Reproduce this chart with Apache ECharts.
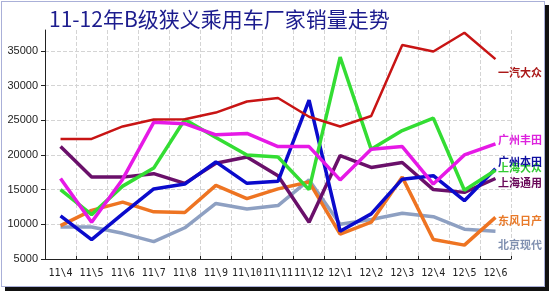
<!DOCTYPE html>
<html>
<head>
<meta charset="utf-8">
<script src="https://cdn.jsdelivr.net/npm/echarts@6/dist/echarts.min.js"></script>
<style>
html,body{margin:0;padding:0;background:#fff;}
#wrap{position:relative;width:550px;height:293px;overflow:hidden;}
#frame{position:absolute;left:1px;top:1px;width:542px;height:284px;border:1px solid #aab0d8;background:#fff;box-shadow:4px 4px 0 #111;}
#chart{position:absolute;left:0;top:0;width:550px;height:293px;}
</style>
</head>
<body>
<div id="wrap"><div id="frame"></div><div id="chart"></div></div>
<script>
const categories = ['11\\4','11\\5','11\\6','11\\7','11\\8','11\\9','11\\10','11\\11','11\\12','12\\1','12\\2','12\\3','12\\4','12\\5','12\\6'];
const yTicks = [5000, 10000, 15000, 20000, 25000, 30000, 35000];
const faw_vw     = [22300, 22300, 24100, 25100, 25150, 26100, 27700, 28200, 25500, 24100, 25600, 35850, 34900, 37600, 33800];
const gz_toyota  = [16600, 10300, 16500, 24700, 24500, 22900, 23100, 21200, 21200, 16400, 20800, 21200, 15800, 20000, 21600];
const sh_vw      = [15000, 11400, 15500, 18100, 25100, 22500, 20000, 19700, 15000, 34100, 20800, 23500, 25300, 14900, 17800];
const gz_honda   = [11200, 7800, 11500, 15100, 15800, 19000, 15900, 16200, 27900, 9000, 11500, 16500, 17000, 13400, 18000];
const sh_gm      = [21200, 16800, 16800, 17300, 15900, 18800, 19700, 17000, 10300, 19900, 18200, 18900, 15000, 14600, 16600];
const df_nissan  = [9800, 12000, 13200, 11800, 11700, 15600, 13700, 15100, 16100, 8600, 10300, 16800, 7800, 7000, 11000];
const bj_hyundai = [9600, 9600, 8700, 7500, 9500, 13000, 12200, 12700, 16400, 10000, 10700, 11600, 11100, 9300, 9000];
const names = ['一汽大众','广州丰田','上海大众','广州本田','上海通用','东风日产','北京现代'];

const seriesData = [faw_vw, gz_toyota, sh_vw, gz_honda, sh_gm, df_nissan, bj_hyundai];
const colors = ['#c81414','#e619e6','#33dd33','#0a0acc','#6a106a','#ee7422','#8ea0c2'];
const labelColors = ['#aa1818','#dd22dd','#33cc33','#1010a0','#6a0a5a','#e87a2a','#8090b0'];
const labelY = [73, 140, 168, 162, 183, 221, 245];

const chart = echarts.init(document.getElementById('chart'), null, {renderer:'canvas'});
const cjk = '"Noto Sans CJK SC", sans-serif';
chart.setOption({
  backgroundColor: 'transparent',
  animation: false,
  title: {
    text: '11-12年B级狭义乘用车厂家销量走势',
    left: 44, top: 4,
    textStyle: {fontFamily: cjk, fontSize: 21, fontWeight: 'normal', color: '#1c1c8e'}
  },
  grid: {left: 45, right: 39, top: 30, bottom: 34},
  xAxis: {
    type: 'category',
    data: categories,
    boundaryGap: true,
    axisLine: {lineStyle: {color: '#222', width: 1}},
    axisTick: {show: true, inside: true, length: 3, lineStyle: {color: '#222'}},
    axisLabel: {color: '#222', fontSize: 10, fontFamily: '"DejaVu Sans Mono", monospace', margin: 9, interval: 0},
    splitLine: {show: true, lineStyle: {color: '#d4d4d4', type: 'dashed', width: 1}}
  },
  yAxis: {
    type: 'value',
    min: yTicks[0], max: 38000, interval: 5000,
    axisLine: {show: true, lineStyle: {color: '#222', width: 1}},
    axisTick: {show: true, length: 4, lineStyle: {color: '#222'}},
    axisLabel: {color: '#222', fontSize: 11, fontFamily: '"Liberation Sans", Arial', margin: 7, showMaxLabel: false,
      formatter: v => yTicks.indexOf(v) >= 0 ? String(v) : ''},
    splitLine: {show: true, showMaxLine: false, lineStyle: {color: '#d4d4d4', type: 'dashed', width: 1}}
  },
  series: seriesData.map((d, i) => ({
    name: names[i], type: 'line', data: d, symbol: 'none', smooth: false,
    lineStyle: {color: colors[i], width: i === 0 ? 2.5 : 3.5},
    itemStyle: {color: colors[i]},
    z: 2 + (6 - i)
  })),
  graphic: names.map((n, i) => ({
    type: 'text', left: 498, top: labelY[i] - 6, z: 100,
    style: {text: n, fill: labelColors[i], font: 'bold 11px ' + cjk}
  }))
});
</script>
</body>
</html>
